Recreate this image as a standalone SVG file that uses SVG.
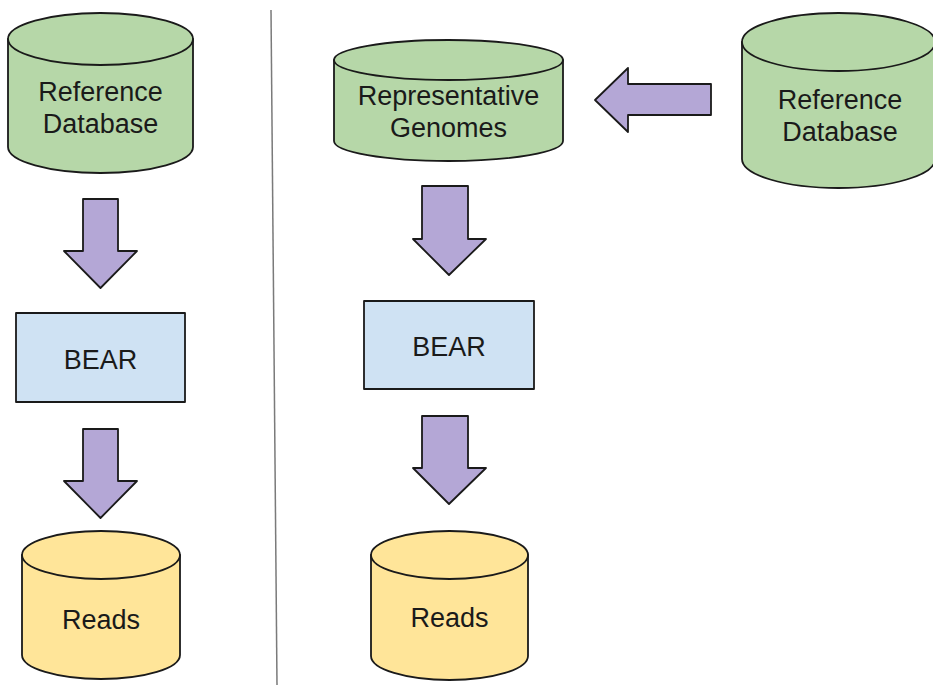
<svg xmlns="http://www.w3.org/2000/svg" width="933" height="685" viewBox="0 0 933 685">
<style>
.s{stroke:#1a1a1a;stroke-width:1.8;stroke-linejoin:round}
.g{fill:#b6d7a8}
.y{fill:#ffe599}
.b{fill:#cfe2f3}
.p{fill:#b4a7d6}
.t{font-family:"Liberation Sans",Arial,sans-serif;font-size:27px;fill:#1a1a1a;text-anchor:middle}
</style>
<rect width="933" height="685" fill="#ffffff"/>
<line x1="271" y1="10" x2="277" y2="685" stroke="#7a7a7a" stroke-width="1.5"/>
<g id="ref-db-left">
<path class="s g" d="M8,39 L8,147 A92.5,26 0 0 0 193,147 L193,39 Z"/>
<ellipse class="s g" cx="100.5" cy="39" rx="92.5" ry="26"/>
<text class="t" x="100.5" y="101">Reference</text>
<text class="t" x="100.5" y="133">Database</text>
</g>
<g id="bear-left">
<rect class="s b" x="16" y="313" width="169" height="89"/>
<text class="t" x="100.5" y="369">BEAR</text>
</g>
<g id="reads-left">
<path class="s y" d="M22,555 L22,655 A79,24 0 0 0 180,655 L180,555 Z"/>
<ellipse class="s y" cx="101" cy="555" rx="79" ry="24"/>
<text class="t" x="101" y="629">Reads</text>
</g>
<g id="rep-genomes">
<path class="s g" d="M334,60 L334,141 A114.5,20 0 0 0 563,141 L563,60 Z"/>
<ellipse class="s g" cx="448.5" cy="60" rx="114.5" ry="20"/>
<text class="t" x="448.5" y="105">Representative</text>
<text class="t" x="448.5" y="137">Genomes</text>
</g>
<g id="ref-db-right">
<path class="s g" d="M742,42 L742,159 A96.5,29 0 0 0 935,159 L935,42 Z"/>
<ellipse class="s g" cx="838.5" cy="42" rx="96.5" ry="29"/>
<text class="t" x="840" y="109">Reference</text>
<text class="t" x="840" y="141">Database</text>
</g>
<g id="bear-right">
<rect class="s b" x="364" y="301" width="170" height="88"/>
<text class="t" x="449" y="356">BEAR</text>
</g>
<g id="reads-right">
<path class="s y" d="M371,555 L371,656 A78.5,24 0 0 0 528,656 L528,555 Z"/>
<ellipse class="s y" cx="449.5" cy="555" rx="78.5" ry="24"/>
<text class="t" x="449.5" y="627">Reads</text>
</g>
<g id="connectors">
<path class="s p" d="M83,199 L118,199 L118,251 L137,251 L100.5,288 L64,251 L83,251 Z"/>
<path class="s p" d="M83,429 L118,429 L118,481 L137,481 L100.5,518 L64,481 L83,481 Z"/>
<path class="s p" d="M422,186 L468,186 L468,239 L486,239 L449,275 L413,239 L422,239 Z"/>
<path class="s p" d="M422,416 L468,416 L468,468 L486,468 L449,504 L413,468 L422,468 Z"/>
<path class="s p" d="M711,84 L711,115 L628,115 L628,132 L595,100 L628,68 L628,84 Z"/>
</g>
</svg>
